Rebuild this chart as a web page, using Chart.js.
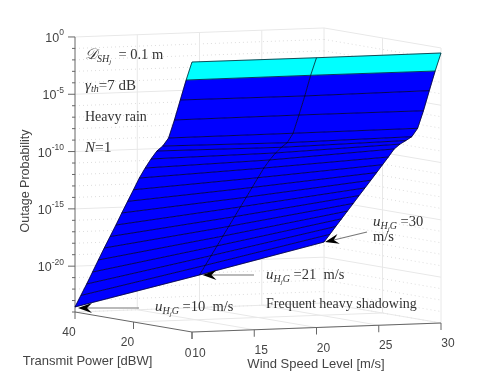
<!DOCTYPE html>
<html>
<head>
<meta charset="utf-8">
<title>Outage probability surface</title>
<script src="https://cdn.jsdelivr.net/npm/chart.js@4"></script>
<style>
  html, body { margin: 0; padding: 0; background: #fff; }
  canvas { display: block; }
</style>
</head>
<body>
<canvas id="surface" width="498" height="374"></canvas>
<script>
// Surface samples: log10(outage) per transmit power row, one array per wind speed column
const powerLevels = [0, 2, 4, 6, 8, 10, 12, 14, 16, 18, 20, 22, 24, 26, 28, 30, 32, 34, 36, 38, 40];
const windLevels = [10, 20, 30];
const outageWind10 = [-0.44, -2.10, -3.93, -5.76, -7.42, -8.21, -8.73, -9.51, -10.39, -11.35, -12.46, -13.56, -14.66, -15.80, -16.89, -17.98, -19.11, -20.25, -21.38, -22.47, -23.56];
const outageWind20 = [-0.46, -2.08, -3.97, -5.72, -7.40, -8.31, -8.80, -9.38, -10.08, -10.87, -11.80, -12.74, -13.68, -14.61, -15.55, -16.49, -17.42, -18.36, -19.30, -20.23, -21.16];
const outageWind30 = [-0.44, -2.10, -3.90, -5.74, -7.36, -8.18, -8.60, -9.00, -9.51, -10.30, -11.06, -11.83, -12.59, -13.35, -14.10, -14.87, -15.63, -16.39, -17.15, -17.92, -18.68];
const outageColumns = [outageWind10, outageWind20, outageWind30];

const windTicks = [10, 15, 20, 25, 30];
const powerTicks = [0, 20, 40];
const decadeTicks = [0, -5, -10, -15, -20];
const zMin = -24;
const zMax = 0;

// View of the 3D box, pixels per unit along each axis
const PX_WIND_X = 12.45, PX_WIND_Y = 0.45;
const PX_POWER_X = 2.925, PX_POWER_Y = 0.5;
const PX_DECADE = 11.46;
const ORIGIN_X = 75, ORIGIN_Y = 312;   // power 40, wind 10, 10^-24
const WIDTH = 498, HEIGHT = 374;

// 3D -> the 2D values of the chart's x/y scales
function project(power, wind, z) {
  return {
    x: wind + (40 - power) * PX_POWER_X / PX_WIND_X,
    y: z - (40 - power) * PX_POWER_Y / PX_DECADE + (wind - 10) * PX_WIND_Y / PX_DECADE
  };
}

// Mesh lines come first in the list so they are painted over the fills
function buildMeshLines() {
  const sets = [];
  const lineSet = pts => ({
    data: pts,
    showLine: true,
    pointRadius: 0,
    borderColor: '#00000f',
    borderWidth: 0.7,
    fill: false,
    tension: 0
  });
  powerLevels.forEach((p, r) => {
    sets.push(lineSet(windLevels.map((u, c) => project(p, u, outageColumns[c][r]))));
  });
  windLevels.forEach((u, c) => {
    sets.push(lineSet(powerLevels.map((p, r) => project(p, u, outageColumns[c][r]))));
  });
  return sets;
}

function buildFacets() {
  const sets = [];
  for (let r = 0; r < powerLevels.length - 1; r++) {
    for (let c = 0; c < windLevels.length - 1; c++) {
      const p0 = powerLevels[r], p1 = powerLevels[r + 1];
      const u0 = windLevels[c], u1 = windLevels[c + 1];
      const a = outageColumns[c], b = outageColumns[c + 1];
      const color = r === 0 ? '#00ffff' : '#0000ff';
      sets.push({
        data: [
          project(p0, u0, a[r]), project(p0, u1, b[r]),
          project(p1, u1, b[r + 1]), project(p1, u0, a[r + 1]),
          project(p0, u0, a[r])
        ],
        showLine: true,
        pointRadius: 0,
        borderColor: color,
        borderWidth: 0.5,
        backgroundColor: color,
        fill: 'shape',
        tension: 0
      });
    }
  }
  return sets;
}

const AXIS_COLOR = '#666666';
const GRID_COLOR = '#e8e8e8';
const MINOR_COLOR = '#dcdcdc';
const TICK_FONT = '12px "Liberation Sans", Arial, sans-serif';
const SERIF = '"Liberation Serif", "DejaVu Serif", serif';

const box3d = {
  id: 'box3d',
  beforeDatasetsDraw(chart) {
    const ctx = chart.ctx;
    const pos = (p, u, z) => {
      const q = project(p, u, z);
      return [chart.scales.x.getPixelForValue(q.x), chart.scales.y.getPixelForValue(q.y)];
    };
    const seg = (a, b, color, width, dash) => {
      ctx.beginPath();
      ctx.setLineDash(dash || []);
      ctx.strokeStyle = color;
      ctx.lineWidth = width;
      ctx.moveTo(a[0], a[1]);
      ctx.lineTo(b[0], b[1]);
      ctx.stroke();
    };
    ctx.save();

    // Back walls: dotted minor decades, solid major decades
    for (let z = zMax; z >= zMin; z--) {
      const major = decadeTicks.includes(z);
      const color = major ? GRID_COLOR : MINOR_COLOR;
      const dash = major ? [] : [1, 3];
      seg(pos(40, 10, z), pos(40, 30, z), color, 1, dash);
      seg(pos(40, 30, z), pos(0, 30, z), color, 1, dash);
    }
    // Wall and floor verticals
    windTicks.slice(1).forEach(u => {
      seg(pos(40, u, zMin), pos(40, u, zMax), GRID_COLOR, 1);
      seg(pos(0, u, zMin), pos(40, u, zMin), GRID_COLOR, 1);
    });
    powerTicks.slice(0, 2).forEach(p => {
      seg(pos(p, 30, zMin), pos(p, 30, zMax), GRID_COLOR, 1);
      seg(pos(p, 10, zMin), pos(p, 30, zMin), GRID_COLOR, 1);
    });
    seg(pos(40, 10, zMin), pos(40, 30, zMin), GRID_COLOR, 1);

    // Axis lines and ticks
    seg(pos(40, 10, zMin), pos(40, 10, zMax), AXIS_COLOR, 1);
    seg(pos(40, 10, zMin), pos(0, 10, zMin), AXIS_COLOR, 1);
    seg(pos(0, 10, zMin), pos(0, 30, zMin), AXIS_COLOR, 1);
    for (let z = zMax; z >= zMin; z--) {
      const a = pos(40, 10, z);
      const len = decadeTicks.includes(z) ? 7 : 3;
      seg([a[0] - len, a[1]], a, AXIS_COLOR, 1);
    }
    windTicks.forEach(u => {
      const a = pos(0, u, zMin);
      seg(a, [a[0], a[1] + 7], AXIS_COLOR, 1);
    });
    powerTicks.forEach(p => {
      const a = pos(p, 10, zMin);
      seg(a, [a[0], a[1] + 7], AXIS_COLOR, 1);
    });
    ctx.restore();
  },
  afterDatasetsDraw(chart) {
    const ctx = chart.ctx;
    const pos = (p, u, z) => {
      const q = project(p, u, z);
      return [chart.scales.x.getPixelForValue(q.x), chart.scales.y.getPixelForValue(q.y)];
    };
    ctx.save();
    ctx.textBaseline = 'alphabetic';

    // Annotation arrows point at the last row of the surface
    const lastRow = powerLevels.length - 1;
    drawArrow(ctx, [139, 308], pos(40, 10, outageWind10[lastRow]), [3, 1]);
    drawArrow(ctx, [254, 275], pos(40, 20, outageWind20[lastRow]), [3, 0]);
    drawArrow(ctx, [367, 232], pos(40, 30, outageWind30[lastRow]), [1, 0]);

    // z tick labels
    ctx.fillStyle = '#444444';
    decadeTicks.forEach(z => {
      const a = pos(40, 10, z);
      const sup = String(z);
      ctx.font = '8.5px "Liberation Sans", Arial, sans-serif';
      const supW = ctx.measureText(sup).width;
      ctx.textAlign = 'left';
      ctx.fillText(sup, 64 - supW, a[1] - 1.5);
      ctx.font = '12.5px "Liberation Sans", Arial, sans-serif';
      ctx.textAlign = 'right';
      ctx.fillText('10', 64 - supW, a[1] + 5);
    });

    // Floor tick labels
    ctx.textAlign = 'center';
    ctx.font = TICK_FONT;
    powerTicks.slice(1).forEach(p => {
      const a = pos(p, 10, zMin);
      ctx.fillText(String(p), a[0] - 6, a[1] + 24);
    });
    ctx.fillText('0', 188, 357);
    windTicks.forEach(u => {
      const a = pos(0, u, zMin);
      ctx.fillText(String(u), a[0] + 7, a[1] + (u === 10 ? 25 : 24));
    });

    // Axis titles
    ctx.font = '13px "Liberation Sans", Arial, sans-serif';
    ctx.textAlign = 'center';
    ctx.fillText('Transmit Power [dBW]', 87.5, 365);
    ctx.fillText('Wind Speed Level [m/s]', 316, 368);
    ctx.save();
    ctx.font = '12.5px "Liberation Sans", Arial, sans-serif';
    ctx.translate(29, 181);
    ctx.rotate(-Math.PI / 2);
    ctx.fillText('Outage Probability', 0, 0);
    ctx.restore();

    // Annotations
    ctx.fillStyle = '#333333';
    drawRuns(ctx, 85, 59, [
      ['𝒟', 'italic 15px ' + SERIF, 0], ['SH', 'italic 10px ' + SERIF, 3], ['j', 'italic 7px ' + SERIF, 5],
      ['  = 0.1 m', '14.5px ' + SERIF, 0]
    ]);
    drawRuns(ctx, 85, 90, [
      ['γ', 'italic 15px ' + SERIF, 0], ['th', 'italic 10px ' + SERIF, 2], ['=7 dB', '15px ' + SERIF, 0]
    ]);
    drawRuns(ctx, 85, 121, [['Heavy rain', '14px ' + SERIF, 0]]);
    drawRuns(ctx, 85, 152, [['N', 'italic 15px ' + SERIF, 0], ['=1', '15.5px ' + SERIF, 0]]);
    const windSub = [
      ['u', 'italic 15px ' + SERIF, 0], ['H', 'italic 10px ' + SERIF, 3], ['j', 'italic 7px ' + SERIF, 5],
      ['G', 'italic 10px ' + SERIF, 3]
    ];
    drawRuns(ctx, 155, 311, windSub.concat([[' =10  m/s', '14.5px ' + SERIF, 0]]));
    drawRuns(ctx, 266, 279, windSub.concat([[' =21  m/s', '14.5px ' + SERIF, 0]]));
    drawRuns(ctx, 373, 226, windSub.concat([[' =30', '14.5px ' + SERIF, 0]]));
    drawRuns(ctx, 373, 241, [['m/s', '14.5px ' + SERIF, 0]]);
    drawRuns(ctx, 266, 308, [['Frequent heavy shadowing', '14px ' + SERIF, 0]]);
    ctx.restore();
  }
};

// Text made of several runs: [text, font, drop below baseline]
function drawRuns(ctx, x, y, runs) {
  ctx.textAlign = 'left';
  runs.forEach(run => {
    ctx.font = run[1];
    ctx.fillText(run[0], x, y + run[2]);
    x += ctx.measureText(run[0]).width;
  });
}

// Gray shaft with a concave black head, tip nudged off the surface corner
function drawArrow(ctx, from, to, nudge) {
  const tip = [to[0] + nudge[0], to[1] + nudge[1]];
  const ang = Math.atan2(from[1] - tip[1], from[0] - tip[0]);
  const at = (d, s) => [
    tip[0] + d * Math.cos(ang) - s * Math.sin(ang),
    tip[1] + d * Math.sin(ang) + s * Math.cos(ang)
  ];
  ctx.beginPath();
  ctx.strokeStyle = '#777777';
  ctx.lineWidth = 1.1;
  ctx.moveTo(from[0], from[1]);
  ctx.lineTo(at(9, 0)[0], at(9, 0)[1]);
  ctx.stroke();
  ctx.beginPath();
  ctx.fillStyle = '#000000';
  ctx.moveTo(tip[0], tip[1]);
  ctx.lineTo(at(14, 5)[0], at(14, 5)[1]);
  ctx.lineTo(at(9, 0)[0], at(9, 0)[1]);
  ctx.lineTo(at(14, -5)[0], at(14, -5)[1]);
  ctx.closePath();
  ctx.fill();
  ctx.fillStyle = '#333333';
}

new Chart(document.getElementById('surface').getContext('2d'), {
  type: 'scatter',
  data: { datasets: buildMeshLines().concat(buildFacets()) },
  plugins: [box3d],
  options: {
    responsive: false,
    animation: false,
    layout: { padding: 0 },
    plugins: { legend: { display: false }, tooltip: { enabled: false }, title: { display: false } },
    scales: {
      x: { type: 'linear', display: false, min: 10 - ORIGIN_X / PX_WIND_X, max: 10 + (WIDTH - ORIGIN_X) / PX_WIND_X },
      y: { type: 'linear', display: false, min: zMin - (HEIGHT - ORIGIN_Y) / PX_DECADE, max: zMin + ORIGIN_Y / PX_DECADE }
    }
  }
});
</script>
</body>
</html>
